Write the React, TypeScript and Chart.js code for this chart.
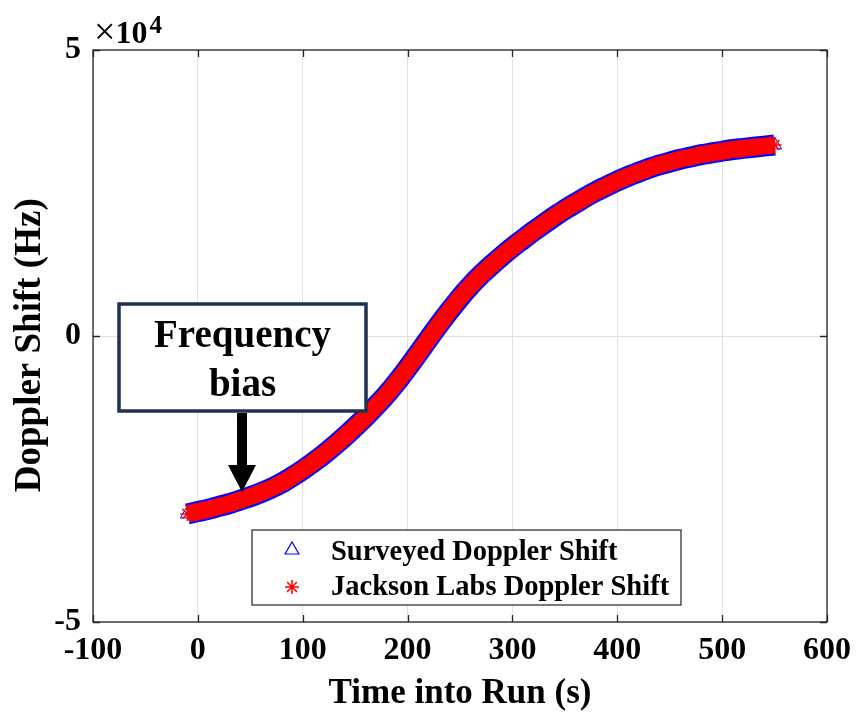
import React, { useEffect, useRef } from 'react';
import { Chart, registerables } from 'chart.js';

Chart.register(...registerables);

const SERIF = "'Liberation Serif', 'Times New Roman', serif";

// Time into run (s)
const timeSec = [
  -10, 0, 10, 20, 30, 40, 50, 60, 70, 80, 90, 100, 110, 120, 130, 140, 150, 160, 170, 180,
  190, 200, 210, 220, 230, 240, 250, 260, 270, 280, 290, 300, 310, 320, 330, 340, 350, 360,
  370, 380, 390, 400, 410, 420, 430, 440, 450, 460, 470, 480, 490, 500, 510, 520, 530, 540, 550,
];

// Surveyed Doppler shift (Hz)
const surveyedHz = [
  -31100, -30700, -30300, -29800, -29300, -28700, -28100, -27400, -26600, -25700, -24600,
  -23400, -22100, -20700, -19200, -17600, -15900, -14100, -12200, -10200, -8000, -5600,
  -3100, -500, 2000, 4400, 6700, 8800, 10700, 12400, 14000, 15500, 16900, 18300, 19600,
  20900, 22100, 23200, 24300, 25300, 26200, 27100, 27900, 28600, 29300, 29900, 30400,
  30900, 31300, 31700, 32000, 32300, 32600, 32800, 33000, 33200, 33400,
];

// Jackson Labs Doppler shift (Hz)
const jacksonHz = [
  -31100, -30700, -30300, -29800, -29300, -28700, -28100, -27400, -26600, -25700, -24600,
  -23400, -22100, -20700, -19200, -17600, -15900, -14100, -12200, -10200, -8000, -5600,
  -3100, -500, 2000, 4400, 6700, 8800, 10700, 12400, 14000, 15500, 16900, 18300, 19600,
  20900, 22100, 23200, 24300, 25300, 26200, 27100, 27900, 28600, 29300, 29900, 30400,
  30900, 31300, 31700, 32000, 32300, 32600, 32800, 33000, 33200, 33400,
];

const seriesLabels = ['Surveyed Doppler Shift', 'Jackson Labs Doppler Shift'];
const xTickValues = [-100, 0, 100, 200, 300, 400, 500, 600];
const yTickValues = [-50000, 0, 50000];
const xTitle = 'Time into Run (s)';
const yTitle = 'Doppler Shift (Hz)';
const annotationLines = ['Frequency', 'bias'];

function drawTriangle(ctx: CanvasRenderingContext2D, x: number, y: number, r: number) {
  const a = (2 * Math.PI) / 3;
  ctx.beginPath();
  ctx.moveTo(x, y - r);
  ctx.lineTo(x + Math.sin(a) * r, y - Math.cos(a) * r);
  ctx.lineTo(x + Math.sin(2 * a) * r, y - Math.cos(2 * a) * r);
  ctx.closePath();
  ctx.stroke();
}

function drawStar(ctx: CanvasRenderingContext2D, x: number, y: number, r: number) {
  ctx.beginPath();
  for (let i = 0; i < 4; i++) {
    const ang = (i * Math.PI) / 4;
    ctx.moveTo(x - Math.cos(ang) * r, y - Math.sin(ang) * r);
    ctx.lineTo(x + Math.cos(ang) * r, y + Math.sin(ang) * r);
  }
  ctx.stroke();
}

const overlayPlugin = {
  id: 'overlay',
  afterDraw(chart: any) {
    const { ctx, chartArea: a, scales } = chart;
    const xs = scales.x;
    const ys = scales.y;
    ctx.save();

    // axes box
    ctx.strokeStyle = '#262626';
    ctx.lineWidth = 1.3;
    ctx.strokeRect(a.left, a.top, a.right - a.left, a.bottom - a.top);

    // inward tick marks
    const tl = 7;
    ctx.beginPath();
    xTickValues.forEach((v) => {
      const px = Math.round(xs.getPixelForValue(v)) + 0.5;
      ctx.moveTo(px, a.bottom);
      ctx.lineTo(px, a.bottom - tl);
      ctx.moveTo(px, a.top);
      ctx.lineTo(px, a.top + tl);
    });
    yTickValues.forEach((v) => {
      const py = Math.round(ys.getPixelForValue(v)) + 0.5;
      ctx.moveTo(a.left, py);
      ctx.lineTo(a.left + tl, py);
      ctx.moveTo(a.right, py);
      ctx.lineTo(a.right - tl, py);
    });
    ctx.stroke();

    // exponent label
    ctx.fillStyle = '#000';
    ctx.textAlign = 'left';
    ctx.textBaseline = 'alphabetic';
    ctx.font = `38px ${SERIF}`;
    ctx.fillText('\u00d7', a.left + 1, a.top - 6);
    const wx = ctx.measureText('\u00d7').width;
    ctx.font = `bold 32px ${SERIF}`;
    ctx.fillText('10', a.left + 1 + wx, a.top - 7);
    const w10 = ctx.measureText('10').width;
    ctx.font = `bold 25px ${SERIF}`;
    ctx.fillText('4', a.left + 3 + wx + w10, a.top - 17);

    // annotation box
    const bx = 119, by = 304, bw = 247, bh = 107;
    ctx.fillStyle = '#ffffff';
    ctx.fillRect(bx, by, bw, bh);
    ctx.strokeStyle = '#1f3150';
    ctx.lineWidth = 3.5;
    ctx.strokeRect(bx, by, bw, bh);
    ctx.fillStyle = '#000';
    ctx.textAlign = 'center';
    ctx.font = `bold 39px ${SERIF}`;
    const cx = bx + bw / 2;
    ctx.fillText(annotationLines[0], cx, 347);
    ctx.fillText(annotationLines[1], cx, 396);

    // arrow
    const ax = 242;
    ctx.fillStyle = '#000';
    ctx.fillRect(ax - 5, by + bh + 2, 10, 466 - (by + bh + 2));
    ctx.beginPath();
    ctx.moveTo(ax - 14, 465);
    ctx.lineTo(ax + 14, 465);
    ctx.lineTo(ax, 492);
    ctx.closePath();
    ctx.fill();

    // legend
    const lx = 252, ly = 530, lw = 429, lh = 75;
    ctx.fillStyle = '#ffffff';
    ctx.fillRect(lx, ly, lw, lh);
    ctx.strokeStyle = '#333333';
    ctx.lineWidth = 1.3;
    ctx.strokeRect(lx, ly, lw, lh);
    ctx.strokeStyle = '#0000ff';
    ctx.lineWidth = 1.2;
    drawTriangle(ctx, 292, 550, 8);
    ctx.strokeStyle = '#ff0000';
    ctx.lineWidth = 1.5;
    drawStar(ctx, 292, 587, 7);
    ctx.fillStyle = '#000';
    ctx.textAlign = 'left';
    ctx.font = `bold 28.5px ${SERIF}`;
    ctx.fillText(chart.data.datasets[0].label, 331, 560);
    ctx.fillText(chart.data.datasets[1].label, 331, 595);

    ctx.restore();
  },
};

export default function App() {
  const ref = useRef<HTMLCanvasElement | null>(null);

  useEffect(() => {
    document.body.style.margin = '0';
    const canvas = ref.current;
    if (!canvas) return;
    const tickFont = { family: SERIF, size: 32, weight: 'bold' as const };
    const chart = new Chart(canvas, {
      type: 'scatter',
      data: {
        datasets: [
          {
            label: seriesLabels[0],
            data: timeSec.map((t, i) => ({ x: t, y: surveyedHz[i] })),
            showLine: true,
            borderColor: '#0000ff',
            borderWidth: 21,
            pointStyle: 'triangle',
            pointRadius: 8,
            pointBorderColor: '#0000ff',
            pointBackgroundColor: 'rgba(0,0,0,0)',
            pointBorderWidth: 1,
            cubicInterpolationMode: 'monotone',
            order: 1,
          },
          {
            label: seriesLabels[1],
            data: timeSec.map((t, i) => ({ x: t, y: jacksonHz[i] })),
            showLine: true,
            borderColor: '#ff0000',
            borderWidth: 17,
            pointStyle: 'star',
            pointRadius: 7,
            pointBorderColor: '#ff0000',
            pointBackgroundColor: '#ff0000',
            pointBorderWidth: 1.5,
            cubicInterpolationMode: 'monotone',
            order: 0,
          },
        ],
      },
      options: {
        animation: false,
        responsive: false,
        layout: { padding: { left: 0, right: 26, top: 50, bottom: 0 } },
        plugins: { legend: { display: false }, tooltip: { enabled: false } },
        scales: {
          x: {
            type: 'linear',
            min: -100,
            max: 600,
            afterBuildTicks: (s: any) => {
              s.ticks = xTickValues.map((v) => ({ value: v }));
            },
            afterFit: (s: any) => {
              s.height = 93;
            },
            ticks: {
              font: tickFont,
              color: '#000',
              padding: 10,
              maxRotation: 0,
              autoSkip: false,
              callback: (v: any) => String(v),
            },
            grid: { color: '#e0e0e0', drawTicks: false, lineWidth: 1 },
            border: { display: false },
            title: {
              display: true,
              text: xTitle,
              color: '#000',
              font: { family: SERIF, size: 35, weight: 'bold' },
              padding: { top: 0, bottom: 0 },
            },
          },
          y: {
            type: 'linear',
            min: -50000,
            max: 50000,
            afterBuildTicks: (s: any) => {
              s.ticks = yTickValues.map((v) => ({ value: v }));
            },
            afterFit: (s: any) => {
              s.width = 93;
            },
            ticks: {
              font: tickFont,
              color: '#000',
              padding: 12,
              autoSkip: false,
              callback: (v: any) => String(Number(v) / 10000),
            },
            grid: { color: '#e0e0e0', drawTicks: false, lineWidth: 1 },
            border: { display: false },
            title: {
              display: true,
              text: yTitle + '\u00a0\u00a0',
              color: '#000',
              font: { family: SERIF, size: 37, weight: 'bold' },
              padding: { top: 8, bottom: 0 },
            },
          },
        },
      },
      plugins: [overlayPlugin],
    });
    return () => chart.destroy();
  }, []);

  return <canvas ref={ref} width={861} height={715} style={{ display: 'block' }} />;
}
